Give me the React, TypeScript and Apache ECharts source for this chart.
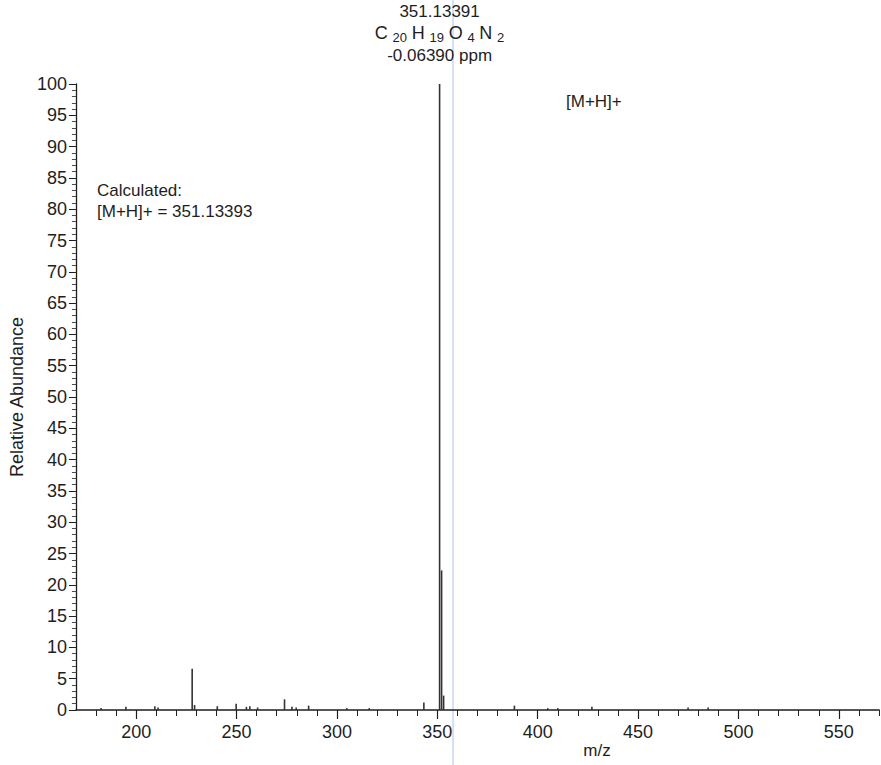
import React, { useEffect, useRef } from "react";
import * as echarts from "echarts";

// ---- data ----
const mzValues = [182.5, 194.9, 209.3, 210.9, 227.9, 229.1, 240.4, 249.8, 254.9, 256.6, 260.5, 273.9, 277.6, 279.7, 285.9, 304.9, 316.1, 343.3, 351.13391, 352.137, 353.14, 388.4, 405.0, 410.0, 427.0, 474.9, 484.9];
const abundanceValues = [0.3, 0.5, 0.6, 0.4, 6.6, 0.8, 0.6, 1.0, 0.5, 0.6, 0.4, 1.7, 0.5, 0.4, 0.7, 0.3, 0.3, 1.2, 100, 22.3, 2.3, 0.7, 0.3, 0.3, 0.5, 0.4, 0.4];

const xMajorTicks = [200, 250, 300, 350, 400, 450, 500, 550];
const xMinorTicks = [180, 190, 210, 220, 230, 240, 260, 270, 280, 290, 310, 320, 330, 340, 360, 370, 380, 390, 410, 420, 430, 440, 460, 470, 480, 490, 510, 520, 530, 540, 560, 570];

const peakMz = "351.13391";
const formulaParts = [["C", "20"], ["H", "19"], ["O", "4"], ["N", "2"]];
const peakPpm = "-0.06390 ppm";
const calcLines = ["Calculated:", "[M+H]+ = 351.13393"];
const ionLabel = "[M+H]+";
const xName = "m/z";
const yName = "Relative Abundance";

const FONT = "'Liberation Sans', Arial, sans-serif";
const INK = "#1e1e1e";

export default function App() {
  const ref = useRef<HTMLDivElement>(null);

  useEffect(() => {
    if (!ref.current) return;
    const chart = echarts.init(ref.current, undefined, { renderer: "svg" });

    const formula = formulaParts.map(([el, n]) => `{m|${el}} {s|${n}}`).join(" ");
    const data = mzValues.map((x, i) => {
      const item: any = { value: [x, abundanceValues[i]] };
      if (abundanceValues[i] === 100) {
        item.label = {
          show: true,
          position: "top",
          distance: 18,
          color: INK,
          fontFamily: FONT,
          fontSize: 17,
          lineHeight: 22,
          align: "center",
          formatter: `{a|${peakMz}}\n${formula}\n{a|${peakPpm}}`,
          rich: {
            a: { fontSize: 17, lineHeight: 22, fontFamily: FONT, color: INK },
            m: { fontSize: 18, lineHeight: 22, fontFamily: FONT, color: INK },
            s: { fontSize: 13, lineHeight: 13, fontFamily: FONT, color: INK, verticalAlign: "bottom" },
          },
        };
      }
      return item;
    });

    const option: any = {
      animation: false,
      textStyle: { fontFamily: FONT, color: INK },
      grid: { left: 72, right: 2, top: 84, bottom: 55, containLabel: false },
      xAxis: [
        {
          type: "value",
          min: 170,
          max: 570,
          position: "bottom",
          axisLine: { show: true, onZero: false, lineStyle: { color: INK, width: 1.6 } },
          axisTick: { show: true, customValues: xMinorTicks, length: 6, lineStyle: { color: INK, width: 1 } },
          axisLabel: { show: false },
          splitLine: { show: false },
        },
        {
          type: "value",
          min: 170,
          max: 570,
          position: "bottom",
          axisLine: { show: false },
          axisTick: { show: true, customValues: xMajorTicks, length: 9, lineStyle: { color: INK, width: 1.2 } },
          axisLabel: { show: true, customValues: xMajorTicks, fontSize: 18, color: INK, fontFamily: FONT, margin: 13 },
          splitLine: { show: false },
        },
      ],
      yAxis: {
        type: "value",
        min: 0,
        max: 100,
        interval: 5,
        name: yName,
        nameLocation: "middle",
        nameGap: 42,
        nameTextStyle: { fontSize: 18, color: INK, fontFamily: FONT },
        axisLine: { show: true, lineStyle: { color: INK, width: 1.3 } },
        axisTick: { show: true, length: 7, lineStyle: { color: INK, width: 1 } },
        minorTick: { show: true, splitNumber: 5, length: 4, lineStyle: { color: INK, width: 0.8 } },
        axisLabel: { fontSize: 18, color: INK, fontFamily: FONT, margin: 9 },
        splitLine: { show: false },
        minorSplitLine: { show: false },
      },
      series: [
        {
          type: "bar",
          xAxisIndex: 0,
          yAxisIndex: 0,
          barWidth: 1.6,
          itemStyle: { color: "#333" },
          data,
        },
      ],
      graphic: [
        {
          type: "line",
          shape: { x1: 453, y1: 0, x2: 453, y2: 765 },
          style: { stroke: "#c9d8ec", lineWidth: 1.5 },
          silent: true,
          z: -1,
        },
        {
          type: "text",
          left: 97,
          top: 180,
          style: { text: calcLines.join("\n"), fontSize: 17, lineHeight: 21, fill: INK, fontFamily: FONT },
        },
        {
          type: "text",
          left: 566,
          top: 93,
          style: { text: ionLabel, fontSize: 17, fill: INK, fontFamily: FONT },
        },
        {
          type: "text",
          x: 597,
          y: 750,
          style: { text: xName, fontSize: 17, fill: INK, fontFamily: FONT, align: "center", verticalAlign: "middle" },
        },
      ],
    };

    chart.setOption(option);
    return () => chart.dispose();
  }, []);

  return (
    <div
      ref={ref}
      style={{ position: "fixed", left: 0, top: 0, width: 881, height: 765, background: "#fff" }}
    />
  );
}
